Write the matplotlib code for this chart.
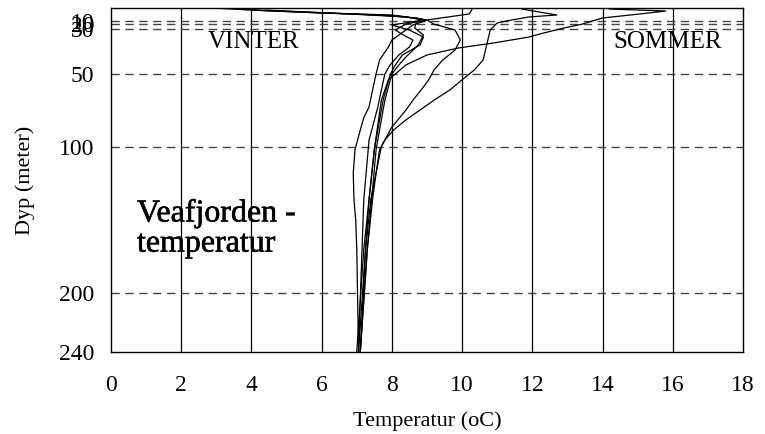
"""
Temperature profiles, Veafjorden.
"""

import numpy as np
import matplotlib
matplotlib.use("Agg")
import matplotlib.pyplot as plt
import matplotlib.patheffects as pe

"""Axis ticks."""
DEPTH_TICKS = [10, 20, 30, 50, 100, 200, 240]
DASHED_DEPTHS = [10, 20, 30, 50, 100, 200]
TEMP_TICKS = [0, 2, 4, 6, 8, 10, 12, 14, 16, 18]

"""Profiles read off the chart (depth in m, temperature in oC)."""
a_depth = [0.6, 2.2, 5.4, 7.8, 20.0, 28.4, 32.0, 33.7, 36.3, 38.5, 41.6, 46.0, 50.0, 54.0, 61.0, 68.0, 85.0, 102.0, 136.0, 170.0, 240.0]
a_temp = [14.2, 15.8, 14.8, 14.0, 13.4, 12.9, 12.3, 11.9, 10.9, 9.9, 9.0, 8.4, 8.1, 7.9, 7.8, 7.7, 7.6, 7.5, 7.35, 7.25, 7.05]

b_depth = [0.6, 3.0, 5.4, 7.0, 10.0, 16.4, 30.6, 37.2, 43.8, 48.2, 54.0, 61.0, 68.0, 74.8, 81.6, 88.5, 95.4, 102.0, 118.0, 136.0, 170.0, 240.0]
b_temp = [11.7, 12.2, 12.7, 11.9, 11.3, 11.0, 10.8, 10.7, 10.6, 10.35, 10.0, 9.65, 9.2, 8.8, 8.4, 8.05, 7.8, 7.65, 7.55, 7.45, 7.3, 7.1]

c_depth = [0.0, 4.6, 7.0, 9.4, 20.0, 23.9, 30.6, 35.0, 39.4, 43.8, 48.2, 54.0, 58.9, 68.0, 74.8, 86.5, 100.0, 136.0, 170.0, 240.0]
c_temp = [10.3, 10.2, 9.6, 9.0, 9.2, 9.4, 9.8, 9.95, 9.8, 9.45, 9.2, 9.05, 8.9, 8.6, 8.4, 8.0, 7.7, 7.4, 7.25, 7.1]

d_depth = [0.0, 1.4, 3.8, 5.4, 9.4, 19.2, 30.6, 33.0, 35.0, 38.1, 41.6, 46.0, 50.0, 61.0, 72.7, 95.4, 136.0, 204.0, 240.0]
d_temp = [3.0, 4.05, 5.95, 8.0, 9.0, 8.4, 8.1, 8.35, 8.6, 8.5, 8.2, 7.95, 7.8, 7.7, 7.6, 7.35, 7.2, 7.1, 7.05]

e_depth = [1.4, 3.8, 6.2, 8.6, 10.5, 21.6, 30.6, 35.0, 38.1, 43.8, 50.0, 61.0, 72.7, 80.0, 88.5, 102.0, 118.0, 136.0, 150.0, 170.0, 240.0]
e_temp = [4.4, 6.2, 8.2, 8.8, 8.95, 8.6, 8.4, 8.0, 7.9, 7.65, 7.55, 7.45, 7.35, 7.2, 7.1, 6.95, 6.9, 6.92, 6.97, 7.0, 7.05]

f_depth = [0.6, 2.2, 4.6, 7.0, 9.4, 21.6, 30.6, 33.7, 37.2, 41.6, 46.0, 50.5, 68.0, 102.0, 170.0, 240.0]
f_temp = [3.5, 4.6, 6.8, 8.4, 8.9, 8.0, 8.5, 8.9, 8.8, 8.3, 8.1, 7.95, 7.75, 7.5, 7.2, 7.0]

g_depth = [1.4, 3.0, 5.4, 7.8, 9.4, 13.6, 28.4, 32.8, 37.2, 42.5, 46.0, 50.0, 68.0, 102.0, 170.0, 240.0]
g_temp = [4.0, 5.5, 7.6, 8.7, 8.95, 8.7, 8.65, 8.9, 8.75, 8.4, 8.2, 8.0, 7.8, 7.55, 7.3, 7.1]

PROFILES = [(a_depth, a_temp), (b_depth, b_temp), (c_depth, c_temp), (d_depth, d_temp),
            (e_depth, e_temp), (f_depth, f_temp), (g_depth, g_temp)]

"""The depth axis of the original is stretched unevenly near the surface."""
SCALE_DEPTH = [0, 10, 20, 30, 50, 100, 200, 240]
SCALE_POS = [8.3, 20.7, 24.3, 28.7, 74.0, 146.7, 293.3, 351.7]


def forward(d):
    return np.interp(d, SCALE_DEPTH, SCALE_POS)


def inverse(p):
    return np.interp(p, SCALE_POS, SCALE_DEPTH)


def main():
    plt.rcParams["font.family"] = ["Liberation Serif", "DejaVu Serif"]

    fig = plt.figure(figsize=(7.65, 4.34), dpi=100)
    ax = fig.add_axes([0.1451, 0.1896, 0.8261, 0.7913])

    ax.set_yscale("function", functions=(forward, inverse))
    ax.set_ylim(240, 0)
    ax.set_xlim(0, 18)

    """Grid: solid verticals, dashed horizontals."""
    for t in TEMP_TICKS[1:-1]:
        ax.axvline(t, color="black", lw=0.9, zorder=1)
    for d in DASHED_DEPTHS:
        ax.axhline(d, color="#444444", lw=1.0, dashes=(6, 4), zorder=1)

    for depth, temp in PROFILES:
        ax.plot(temp, depth, color="black", lw=0.9, zorder=3)

    ax.set_xticks(TEMP_TICKS)
    ax.set_yticks(DEPTH_TICKS)
    ax.set_yticklabels([str(d) for d in DEPTH_TICKS])
    ax.tick_params(axis="both", length=0, labelsize=17)
    ax.tick_params(axis="x", pad=16.5)
    ax.tick_params(axis="y", pad=12)
    for side in ax.spines.values():
        side.set_linewidth(1.0)

    ax.set_xlabel("Temperatur (oC)", fontsize=16, labelpad=11)
    ax.set_ylabel("Dyp (meter)", fontsize=16, labelpad=17)

    ax.text(4.05, 36, "VINTER", fontsize=18, ha="center", va="center", zorder=4)
    ax.text(15.85, 36, "SOMMER", fontsize=18, ha="center", va="center", zorder=4)
    ax.text(0.74, 156, "Veafjorden -\ntemperatur", fontsize=23, ha="left", va="center",
            linespacing=1.05, zorder=4,
            path_effects=[pe.withStroke(linewidth=0.4, foreground="black")])

    fig.savefig("out.png", dpi=100)


if __name__ == "__main__":
    main()
